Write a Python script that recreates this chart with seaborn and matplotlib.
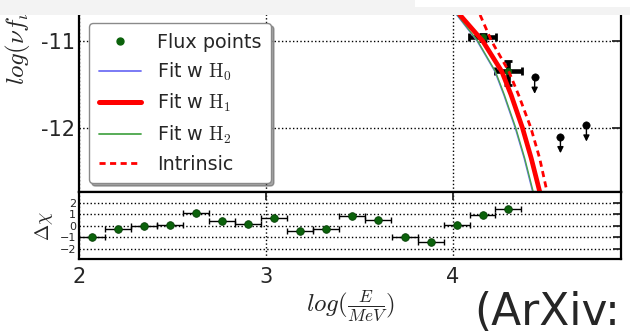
import numpy as np
import pandas as pd
import matplotlib
matplotlib.use("Agg")
import matplotlib.pyplot as plt
import seaborn as sns
from matplotlib.lines import Line2D
from matplotlib.patches import Rectangle

# ---------------- data ----------------
# residual panel
resid_x = [2.071, 2.209, 2.348, 2.487, 2.627, 2.766, 2.904, 3.043, 3.182,
           3.323, 3.462, 3.601, 3.742, 3.881, 4.020, 4.159, 4.298]
resid_y = [-1.00, -0.26, -0.03, 0.03, 1.13, 0.46, 0.17, 0.64, -0.46,
           -0.26, 0.87, 0.49, -0.99, -1.39, 0.03, 0.90, 1.45]
resid_halfbin = 0.0695

# flux points (main panel)
flux_x = [4.159, 4.298]
flux_y = [-10.96, -11.345]
flux_xerr = [0.072, 0.070]
flux_yerr_lo = [0.04, 0.16]
flux_yerr_hi = [0.04, 0.11]

# upper limits
ul_x = [4.438, 4.576, 4.715]
ul_y = [-11.417, -12.10, -11.966]

# model curves (x positions read at the given log-flux levels)
curve_y = [-10.70, -11.00, -11.35, -11.62, -12.00, -12.35, -12.74]
h0_x = [4.021, 4.130, 4.225, 4.273, 4.334, 4.382, 4.428]
h1_x = [4.038, 4.160, 4.262, 4.312, 4.373, 4.420, 4.466]
h2_x = [4.024, 4.133, 4.228, 4.276, 4.337, 4.385, 4.431]
intr_x = [4.146, 4.207, 4.300, 4.352, 4.418, 4.465, 4.505]

main_yticks = [-12, -11]
main_ytick_labels = ["-12", "-11"]
resid_yticks = [-2, -1, 0, 1, 2]
resid_ytick_labels = ["\u22122", "\u22121", "0", "1", "2"]
xticks = [2, 3, 4]
xtick_labels = ["2", "3", "4"]

legend_labels = ["Flux points", r"Fit w $\mathrm{H_0}$", r"Fit w $\mathrm{H_1}$",
                 r"Fit w $\mathrm{H_2}$", "Intrinsic"]

# ---------------- style ----------------
sns.set_style("white")
plt.rcParams["font.family"] = ["DejaVu Sans"]
plt.rcParams["mathtext.fontset"] = "cm"
plt.rcParams["axes.unicode_minus"] = False

BLUE = "#6f6ff5"
GREEN = "#4aa64a"
DKGREEN = "#0b620b"

fig = plt.figure(figsize=(6.3, 3.34), dpi=100)
fig.patch.set_facecolor("white")
ax = fig.add_axes([0.1254, 0.4251, 0.8603, 0.5749])
rax = fig.add_axes([0.1254, 0.2246, 0.8603, 0.2006], sharex=ax)

# ---------------- main panel ----------------
ax.errorbar(flux_x, flux_y, xerr=flux_xerr, yerr=[flux_yerr_lo, flux_yerr_hi],
            fmt="none", ecolor="black", elinewidth=3.3, capsize=3, capthick=2,
            zorder=3)
sns.scatterplot(x=flux_x, y=flux_y, color=DKGREEN, s=22, edgecolor=DKGREEN,
                linewidth=0.5, ax=ax, zorder=4, legend=False)

sns.lineplot(x=h0_x, y=curve_y, sort=False, estimator=None, color=BLUE, lw=1.0,
             ax=ax, zorder=5)
sns.lineplot(x=h2_x, y=curve_y, sort=False, estimator=None, color=GREEN, lw=1.0,
             ax=ax, zorder=5)
sns.lineplot(x=h1_x, y=curve_y, sort=False, estimator=None, color="red", lw=3.4,
             ax=ax, zorder=6)
ln = sns.lineplot(x=intr_x, y=curve_y, sort=False, estimator=None, color="red",
                  lw=2.0, ax=ax, zorder=6)
ln.lines[-1].set_dashes((2.2, 1.6))

# upper limits
sns.scatterplot(x=ul_x, y=ul_y, color="black", s=28, edgecolor="black", ax=ax,
                zorder=4, legend=False)
for xu, yu in zip(ul_x, ul_y):
    ax.annotate("", xy=(xu, yu - 0.19), xytext=(xu, yu),
                arrowprops=dict(arrowstyle="-|>", color="black", lw=1.0,
                                mutation_scale=9, shrinkA=0, shrinkB=0),
                zorder=4)

ax.set_xlim(2.0, 4.9)
ax.set_ylim(-12.736, -10.529)
ax.set_yticks(main_yticks)
ax.set_yticklabels(main_ytick_labels)
ax.set_xticks(xticks)
ax.grid(True, ls=":", color="black", lw=1.0)
ax.tick_params(axis="both", direction="in", length=6.5, width=1.3, right=True,
               top=False, labelsize=15, pad=3, labelbottom=False)
for s in ax.spines.values():
    s.set_linewidth(1.6)
    s.set_color("black")
ax.spines["top"].set_visible(False)
ax.set_xlabel("")
ax.set_ylabel("")

handles = [
    Line2D([], [], ls="none", marker="o", color=DKGREEN, ms=5),
    Line2D([], [], color=BLUE, lw=1.3),
    Line2D([], [], color="red", lw=3.6),
    Line2D([], [], color=GREEN, lw=1.3),
    Line2D([], [], color="red", lw=2.0, ls=(0, (2.2, 1.6))),
]
leg = ax.legend(handles, legend_labels, loc="upper left",
                bbox_to_anchor=(0.0185, 0.880), borderaxespad=0, fontsize=13.8,
                frameon=True, fancybox=True, shadow=True, framealpha=1,
                edgecolor="#8a8a8a", handlelength=2.2, handletextpad=0.85,
                labelspacing=0.47, borderpad=0.5, numpoints=1)
leg.get_frame().set_linewidth(1.0)

# ---------------- residual panel ----------------
rax.errorbar(resid_x, resid_y, xerr=resid_halfbin, fmt="none", ecolor="black",
             elinewidth=1.0, capsize=2.3, capthick=1.0, zorder=3)
sns.scatterplot(x=resid_x, y=resid_y, color=DKGREEN, s=30, edgecolor="#063f06",
                linewidth=0.6, ax=rax, zorder=4, legend=False)
rax.set_ylim(-2.9, 2.95)
rax.set_yticks(resid_yticks)
rax.set_yticklabels(resid_ytick_labels)
rax.set_xticks(xticks)
rax.set_xticklabels(xtick_labels)
rax.set_xlim(2.0, 4.9)
rax.grid(True, ls=":", color="black", lw=1.0)
rax.tick_params(axis="both", direction="in", length=6.0, width=1.3, right=True,
                top=True)
rax.tick_params(axis="y", labelsize=8, pad=2)
rax.tick_params(axis="x", labelsize=15, pad=6)
for s in rax.spines.values():
    s.set_linewidth(1.6)
    s.set_color("black")
rax.set_xlabel("")
rax.set_ylabel("")

# ---------------- labels ----------------
fig.text(0.030, 1 - 85 / 334, r"$log(\nu f_\nu)$", rotation=90, ha="center",
         va="bottom", fontsize=18)
fig.text(44 / 630, 1 - 226 / 334, r"$\Delta\chi$", rotation=90, ha="center",
         va="center", fontsize=14)
fig.text(350 / 630, 1 - 306 / 334, r"$log(\frac{E}{MeV})$", ha="center",
         va="center", fontsize=18)
fig.text(474 / 630, 1 - 325 / 334, "(ArXiv:", fontsize=31.6,
         family=["DejaVu Sans"], ha="left", va="baseline")

# top band of the screenshot
fig.add_artist(Rectangle((0, 1 - 15 / 334), 1, 15 / 334, transform=fig.transFigure,
                         facecolor="#f3f3f3", edgecolor="none", zorder=20))
fig.add_artist(Rectangle((415 / 630, 1 - 7 / 334), 1, 7 / 334,
                         transform=fig.transFigure, facecolor="white",
                         edgecolor="none", zorder=21))

fig.savefig("out.png", dpi=100)
